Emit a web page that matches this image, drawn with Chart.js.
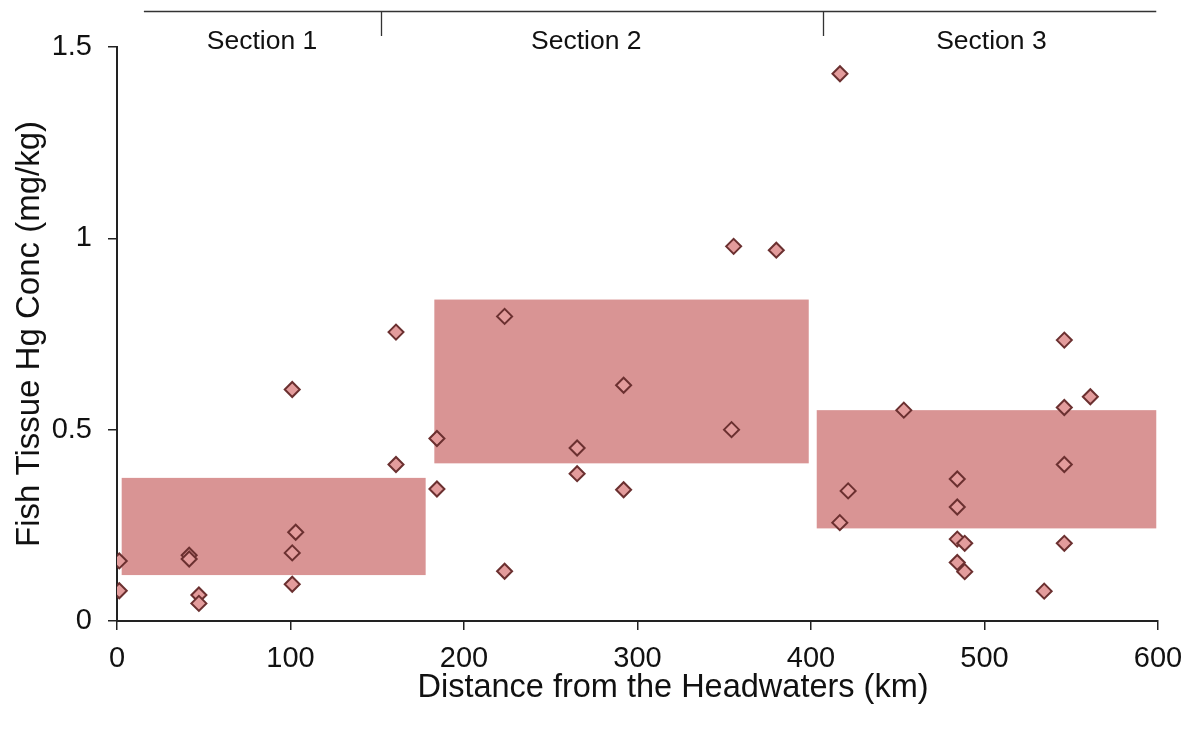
<!DOCTYPE html>
<html>
<head>
<meta charset="utf-8">
<script src="https://cdn.jsdelivr.net/npm/chart.js@4.4.1/dist/chart.umd.min.js"></script>
<style>
    html, body { margin: 0; padding: 0; background: #fff; }
    #wrap { width: 1199px; height: 734px; }
</style>
</head>
<body>
<div id="wrap"><canvas id="chart"></canvas></div>
<script>
// fish samples: distance (km) and Hg concentration (mg/kg)
const distanceKm = [
    1.3, 1.3, 41.6, 41.6, 47.2, 47.2, 101, 103, 101, 101, 160.8, 160.8, 184.4, 184.4,
    223.4, 223.4, 265.2, 265.2, 292, 292, 354.2, 355.4, 380,
    416.7, 416.6, 421.4, 453.5, 484.3, 484.3, 484.3, 488.6, 484.3, 488.6, 534.4,
    546, 546, 546, 546, 561
];
const hgConc = [
    0.157, 0.079, 0.172, 0.162, 0.068, 0.046, 0.605, 0.232, 0.178, 0.096, 0.755, 0.409, 0.477, 0.345,
    0.796, 0.13, 0.452, 0.385, 0.616, 0.343, 0.5, 0.979, 0.969,
    1.43, 0.257, 0.34, 0.551, 0.371, 0.298, 0.214, 0.203, 0.153, 0.129, 0.078,
    0.734, 0.558, 0.409, 0.203, 0.586
];

// shaded range per river section
const boxStartKm = [2.7, 182.9, 403.3];
const boxEndKm   = [177.9, 398.7, 599];
const boxLow     = [0.12, 0.412, 0.242];
const boxHigh    = [0.374, 0.84, 0.551];

// section bracket along the top
const sectionNames    = ['Section 1', 'Section 2', 'Section 3'];
const sectionLabelKm  = [83.6, 270.5, 504];
const sectionBreakKm  = [152, 407];
const bracketKm       = [15.5, 599];

const xTicks = [0, 100, 200, 300, 400, 500, 600];
const yTicks = [0, 0.5, 1, 1.5];

const points = distanceKm.map((d, i) => ({ x: d, y: hgConc[i] }));

const fontFamily = '"Liberation Sans", Arial, sans-serif';

const sectionPlugin = {
    id: 'sections',
    beforeDatasetsDraw: (chart) => {
        const {ctx, scales: {x, y}} = chart;
        ctx.save();
        ctx.fillStyle = '#d99494';
        for (let i = 0; i < boxStartKm.length; ++i) {
            const x0 = x.getPixelForValue(boxStartKm[i]);
            const x1 = x.getPixelForValue(boxEndKm[i]);
            const y0 = y.getPixelForValue(boxHigh[i]);
            const y1 = y.getPixelForValue(boxLow[i]);
            ctx.fillRect(x0, y0, x1 - x0, y1 - y0);
        }
        ctx.restore();
    },
    afterDraw: (chart) => {
        const {ctx, scales: {x}} = chart;
        ctx.save();
        ctx.strokeStyle = '#333';
        ctx.lineWidth = 1.3;
        ctx.beginPath();
        ctx.moveTo(x.getPixelForValue(bracketKm[0]), 11.5);
        ctx.lineTo(x.getPixelForValue(bracketKm[1]), 11.5);
        sectionBreakKm.forEach(km => {
            const px = Math.round(x.getPixelForValue(km)) + 0.5;
            ctx.moveTo(px, 11.5);
            ctx.lineTo(px, 36);
        });
        ctx.stroke();

        ctx.fillStyle = '#111';
        ctx.font = '26.5px ' + fontFamily;
        ctx.textAlign = 'center';
        ctx.textBaseline = 'middle';
        sectionNames.forEach((name, i) => {
            ctx.fillText(name, x.getPixelForValue(sectionLabelKm[i]), 42);
        });

        // axis title sits a bit right of centre in the original
        ctx.font = '32.5px ' + fontFamily;
        ctx.fillText('Distance from the Headwaters (km)', 673, 688);
        ctx.restore();
    }
};

const axisColor = '#222';
const tickFont = { family: fontFamily, size: 29 };

new Chart(document.getElementById('chart'), {
    type: 'scatter',
    data: {
        datasets: [{
            label: 'Fish tissue Hg',
            data: points,
            pointStyle: 'rectRot',
            pointRadius: 7.5,
            pointHoverRadius: 7.5,
            backgroundColor: '#e39c9c',
            borderColor: '#6b3030',
            borderWidth: 2,
        }]
    },
    options: {
        responsive: true,
        maintainAspectRatio: false,
        animation: false,
        layout: { padding: { top: 47, right: 41, left: 0, bottom: 0 } },
        plugins: {
            legend: { display: false },
            tooltip: { enabled: false },
        },
        scales: {
            x: {
                type: 'linear',
                min: 0,
                max: 600,
                afterBuildTicks: (s) => { s.ticks = xTicks.map(v => ({ value: v })); },
                afterFit: (s) => { s.height = 113; },
                grid: { display: true, drawOnChartArea: false, drawTicks: true, tickLength: 9, color: axisColor, lineWidth: 1.5 },
                border: { display: true, color: axisColor, width: 2 },
                ticks: { color: '#111', font: tickFont, padding: 12, maxRotation: 0 },
                title: { display: false },
            },
            y: {
                type: 'linear',
                min: 0,
                max: 1.5,
                afterBuildTicks: (s) => { s.ticks = yTicks.map(v => ({ value: v })); },
                afterFit: (s) => { s.width = 117; },
                grid: { display: true, drawOnChartArea: false, drawTicks: true, tickLength: 9, color: axisColor, lineWidth: 1.5 },
                border: { display: true, color: axisColor, width: 2 },
                ticks: { color: '#111', font: tickFont, padding: 16, callback: (v) => String(v) },
                title: {
                    display: true,
                    text: 'Fish Tissue Hg Conc (mg/kg)',
                    color: '#111',
                    font: { family: fontFamily, size: 33 },
                    padding: { top: 10, bottom: 0 },
                },
            }
        }
    },
    plugins: [sectionPlugin]
});
</script>
</body>
</html>
